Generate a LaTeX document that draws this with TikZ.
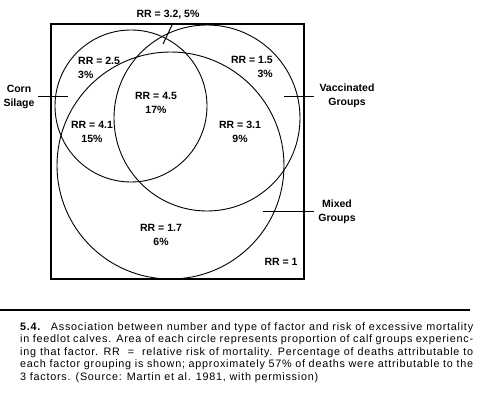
\documentclass[tikz,border=0pt]{standalone}
\usepackage{fontspec}
\setmainfont{Liberation Sans}
\newfontfamily\capfont[LetterSpace=7]{Liberation Sans}
\begin{document}
\begin{tikzpicture}[x=1pt,y=-1pt,
  lbl/.style={font=\fontsize{10.5}{14}\selectfont\bfseries, inner sep=0pt, align=center},
  circ/.style={line width=0.9pt},
  tick/.style={line width=1pt},
  frame/.style={line width=1.2pt}]
\useasboundingbox (0,0) rectangle (477,401);
% frame
\draw[frame] (51,24) rectangle (304,279);
% circles
\draw[circ] (131,106) circle[radius=76];
\draw[circ] (207,118) circle[radius=93];
\draw[circ] (170.5,165.5) circle[radius=113.5];
% labels
\node[lbl] (t32) at (168,15) {RR = 3.2, 5\%};
\coordinate (t32a) at (173,23);
\coordinate (t32b) at (163,44);
\draw[tick] (t32a) -- (t32b);
\node[lbl, align=left, anchor=west] (r25) at (78,68) {RR = 2.5\\3\%};
\node[lbl] (corn) at (19,97) {Corn\\Silage};
\coordinate (cornA) at (38,97);
\coordinate (cornB) at (68,97);
\draw[tick] (cornA) -- (cornB);
\node[lbl] (r45) at (156,103) {RR = 4.5\\17\%};
\node[lbl] (r41) at (92,132) {RR = 4.1\\15\%};
\node[lbl, align=right, anchor=east] (r15) at (273,67) {RR = 1.5\\3\%};
\node[lbl] (vacc) at (347,96) {Vaccinated\\Groups};
\coordinate (vaccA) at (284,97);
\coordinate (vaccB) at (314,97);
\draw[tick] (vaccA) -- (vaccB);
\node[lbl] (r31) at (240,132) {RR = 3.1\\9\%};
\node[lbl] (r17) at (161,235) {RR = 1.7\\6\%};
\node[lbl] (mixed) at (337,212) {Mixed\\Groups};
\coordinate (mixA) at (263,212);
\coordinate (mixB) at (314,212);
\draw[tick] (mixA) -- (mixB);
\node[lbl] (r1) at (281,262) {RR = 1};
% caption rule
\coordinate (ruleA) at (0,310);
\coordinate (ruleB) at (470,310);
\draw[line width=1.8pt] (ruleA) -- (ruleB);
% caption
\node[anchor=north west, inner sep=0pt, align=left, font=\capfont\fontsize{10.8}{12.6}\selectfont] (cap) at (20,322)
{\hbox to 453pt{\textbf{5.4.}\hskip 0.9em Association between number and type of factor and risk of excessive mortality}\\
\hbox to 453pt{in feedlot calves. Area of each circle represents proportion of calf groups experienc-}\\
\hbox to 453pt{ing that factor. RR\ \ =\ \ relative risk of mortality. Percentage of deaths attributable to}\\
\hbox to 453pt{each factor grouping is shown; approximately 57\% of deaths were attributable to the}\\
3 factors. (Source: Martin et al. 1981, with permission)};
\end{tikzpicture}
\end{document}
